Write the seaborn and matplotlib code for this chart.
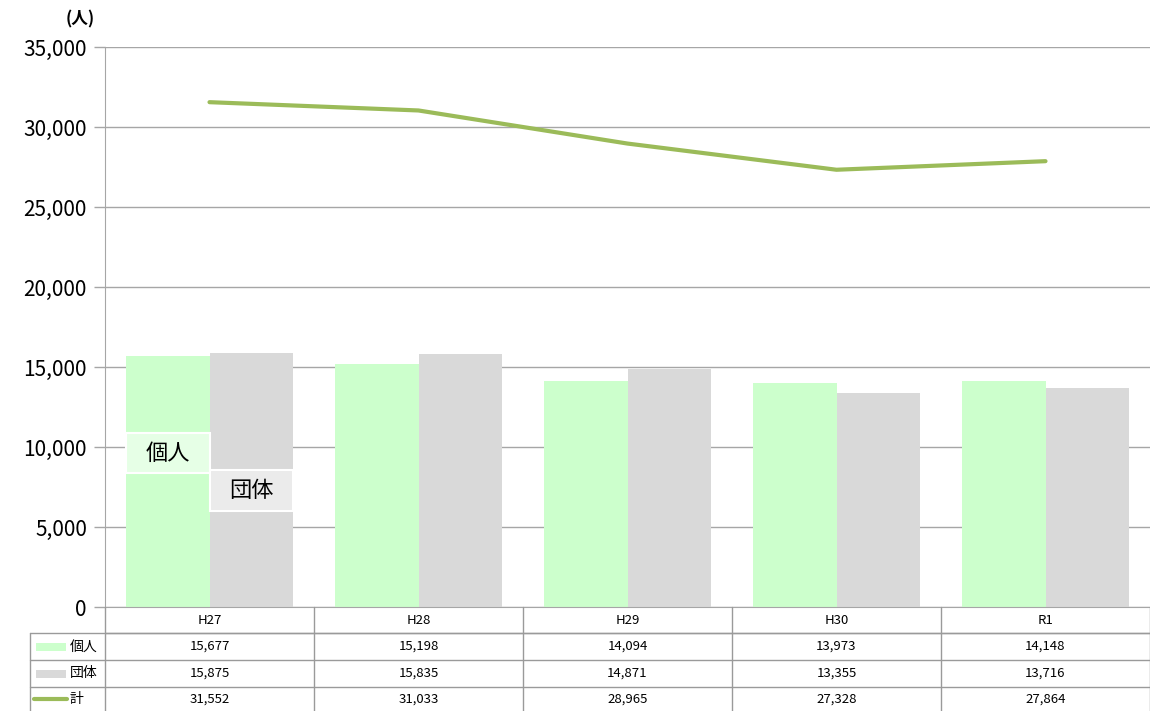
import pandas as pd
import numpy as np
import matplotlib
matplotlib.use('Agg')
import matplotlib.pyplot as plt
import seaborn as sns; sns.set_style('white')

plt.rcParams['font.family'] = ['Noto Sans CJK JP', 'DejaVu Sans']
plt.rcParams['text.color'] = 'black'
plt.rcParams['ytick.labelcolor'] = 'black'

years = ['H27', 'H28', 'H29', 'H30', 'R1']
kojin = [15677, 15198, 14094, 13973, 14148]
dantai = [15875, 15835, 14871, 13355, 13716]
total = [31552, 31033, 28965, 27328, 27864]
series_names = ['個人', '団体', '計']

green = '#ccffcc'
grey = '#d9d9d9'
line_green = '#9bbb59'
grid_col = '#a6a6a6'

df = pd.DataFrame({'year': years * 2,
                   'value': kojin + dantai,
                   'series': ['個人'] * len(years) + ['団体'] * len(years)})

W, H = 1150, 711
fig = plt.figure(figsize=(W / 100, H / 100), dpi=100)
left, right, top, bottom = 105, 1150, 47, 607
ax = fig.add_axes([left / W, 1 - bottom / H, (right - left) / W, (bottom - top) / H])

sns.barplot(data=df, x='year', y='value', hue='series', palette=[green, grey],
            width=0.8, gap=0, saturation=1, legend=False, ax=ax, zorder=2,
            linewidth=0, edgecolor='none')
ax.plot(range(len(years)), total, color=line_green, lw=3, zorder=3)

ax.set_xlim(-0.5, len(years) - 0.5)
ax.set_ylim(0, 35000)
ax.set_yticks(np.arange(0, 35001, 5000))
ax.set_yticklabels([f'{v:,}' for v in range(0, 35001, 5000)], fontsize=15)
ax.yaxis.grid(True, color=grid_col, lw=1, zorder=0)
ax.set_axisbelow(True)
ax.tick_params(axis='y', length=8, color=grid_col, width=1, pad=5, left=True)
ax.set_xticks([])
ax.set_xlabel('')
ax.set_ylabel('')
for s in ['top', 'right']:
    ax.spines[s].set_visible(False)
ax.spines['left'].set_color(grid_col)
ax.spines['bottom'].set_color(grid_col)

ax.text(-0.01, 1.05, '(人)', transform=ax.transAxes, ha='right', va='center',
        fontsize=12, fontweight='bold')

# labels on the first group
ax.add_patch(plt.Rectangle((-0.4, 8375), 0.4, 2500, fc='#e6ffe6', ec='white', lw=1.5, zorder=4))
ax.text(-0.2, 9625, '個人', ha='center', va='center', fontsize=16, zorder=5)
ax.add_patch(plt.Rectangle((0.0, 6000), 0.4, 2560, fc='#ebebeb', ec='white', lw=1.5, zorder=4))
ax.text(0.2, 7280, '団体', ha='center', va='center', fontsize=16, zorder=5)

# data table below the plot
tab = fig.add_axes([0, 0, 1, 1])
tab.set_xlim(0, W)
tab.set_ylim(H, 0)
tab.axis('off')
tab.patch.set_alpha(0)
col_w = (right - left) / len(years)
rows_y = [607, 633, 660, 687, 711]
tc = '#9a9a9a'
tab.plot([left, right], [rows_y[1]] * 2, color=tc, lw=1)
for y in rows_y[1:4]:
    tab.plot([30, right], [y, y], color=tc, lw=1)
tab.plot([30, 30], [rows_y[1], H], color=tc, lw=1)
for i in range(len(years) + 1):
    x = left + i * col_w
    tab.plot([x, x], [rows_y[0], H], color=tc, lw=1)
for i, yr in enumerate(years):
    cx = left + (i + 0.5) * col_w
    tab.text(cx, (rows_y[0] + rows_y[1]) / 2, yr, ha='center', va='center', fontsize=9.5)
    for r, vals in enumerate([kojin, dantai, total]):
        tab.text(cx, (rows_y[r + 1] + rows_y[r + 2]) / 2, f'{vals[i]:,}',
                 ha='center', va='center', fontsize=9.5)
for r, name in enumerate(series_names):
    cy = (rows_y[r + 1] + rows_y[r + 2]) / 2
    if r < 2:
        tab.add_patch(plt.Rectangle((36, cy - 4), 30, 8, color=[green, grey][r], lw=0))
    else:
        tab.plot([34, 67], [cy, cy], color=line_green, lw=3)
    tab.text(70, cy, name, ha='left', va='center', fontsize=10)

fig.savefig('out.png', dpi=100)
